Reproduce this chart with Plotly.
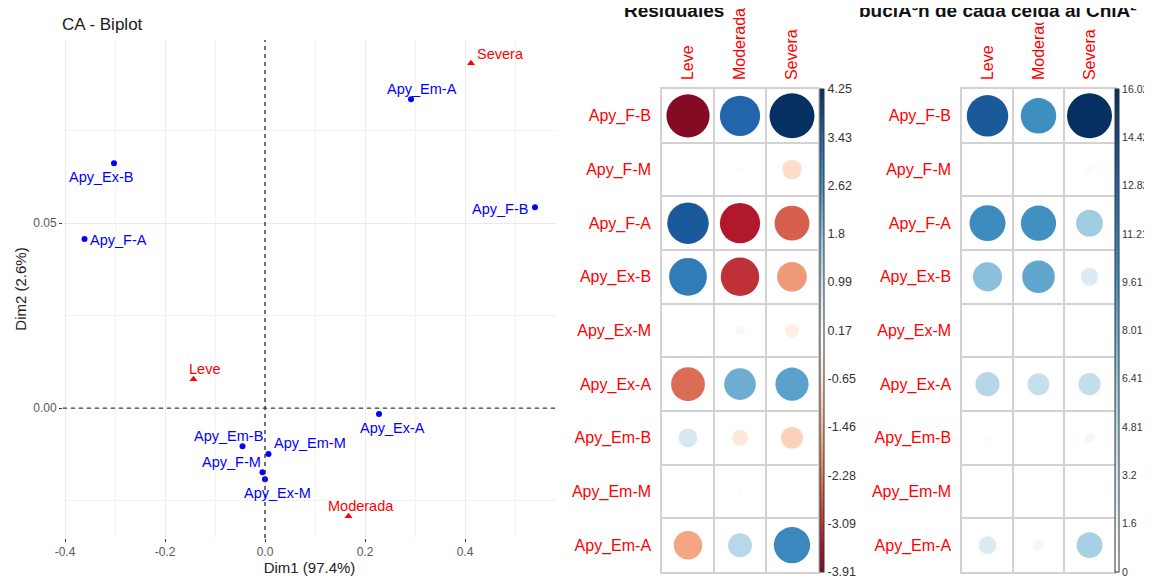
import plotly.graph_objects as go

W, H = 1152, 582
OFF = 8                      # page body margin of the html page
FW, FH = W - OFF, H - OFF    # figure size that fills the window


def px_x(p):
    return (p - OFF) / FW


def px_y(p):
    return 1 - (p - OFF) / FH


# ---------------- data ----------------
row_names = ["Apy_F-B", "Apy_F-M", "Apy_F-A", "Apy_Ex-B", "Apy_Ex-M",
             "Apy_Ex-A", "Apy_Em-B", "Apy_Em-M", "Apy_Em-A"]
col_names = ["Leve", "Moderada", "Severa"]

# CA biplot coordinates
row_dim1 = [0.540, -0.005, -0.361, -0.302, 0.000, 0.228, -0.045, 0.007, 0.292]
row_dim2 = [0.0543, -0.0173, 0.0457, 0.0662, -0.0192, -0.0016, -0.0103, -0.0124, 0.0835]
col_dim1 = [-0.143, 0.167, 0.412]
col_dim2 = [0.0078, -0.0292, 0.0932]

x_ticks = [-0.4, -0.2, 0.0, 0.2, 0.4]
x_tick_labels = ["-0.4", "-0.2", "0.0", "0.2", "0.4"]
y_ticks = [0.0, 0.05]
y_tick_labels = ["0.00", "0.05"]

# Pearson residuals (rows x [Leve, Moderada, Severa])
residuals = [
    [-3.91, 3.40, 4.25],
    [0.02, -0.10, -0.80],
    [3.60, -3.40, -2.55],
    [3.00, -3.10, -1.85],
    [-0.05, 0.20, -0.40],
    [-2.40, 2.10, 2.30],
    [0.75, -0.55, -1.00],
    [0.03, 0.10, 0.05],
    [-1.70, 1.20, 2.75],
]
resid_tick_labels = ["4.25", "3.43", "2.62", "1.8", "0.99", "0.17",
                     "-0.65", "-1.46", "-2.28", "-3.09", "-3.91"]

# Contribution of each cell to Chi2 (%)
contrib = [
    [13.6, 10.0, 16.02],
    [0.0, 0.01, 0.50],
    [10.2, 9.8, 5.7],
    [6.7, 8.4, 2.5],
    [0.0, 0.03, 0.15],
    [4.6, 3.8, 3.9],
    [0.45, 0.25, 0.85],
    [0.0, 0.01, 0.0],
    [2.5, 0.9, 5.3],
]
contrib_tick_labels = ["16.02", "14.42", "12.82", "11.21", "9.61", "8.01",
                       "6.41", "4.81", "3.2", "1.6", "0"]

# ---------------- styles ----------------
row_label_offsets = [(-35, 2), (-31, -10), (34, 1), (-13, 14), (12, 14),
                     (13, 14), (-14, -10), (41, -11), (11, -10)]
col_label_offsets = [(11, -10), (12, -10), (29, -9)]
BLUE = "#0000FF"
RED = "#FF0000"
FONT = "Liberation Sans, Arial, sans-serif"

rdbu = ["#67001F", "#B2182B", "#D6604D", "#F4A582", "#FDDBC7", "#FFFFFF",
        "#D1E5F0", "#92C5DE", "#4393C3", "#2166AC", "#053061"]


def hex2rgb(h):
    h = h.lstrip("#")
    return [int(h[i:i + 2], 16) for i in (0, 2, 4)]


def color_at(s):
    t = (max(-1, min(1, s)) + 1) / 2 * 10
    i = min(int(t), 9)
    f = t - i
    a, b = hex2rgb(rdbu[i]), hex2rgb(rdbu[i + 1])
    c = [round(a[j] + (b[j] - a[j]) * f) for j in range(3)]
    return "rgb(%d,%d,%d)" % tuple(c)


def make_scale(cmin, cmax, vabs):
    stops = [[0.0, color_at(cmin / vabs)]]
    for k in range(11):
        v = (-1 + 0.2 * k) * vabs
        if cmin < v < cmax:
            stops.append([(v - cmin) / (cmax - cmin), rdbu[k]])
    stops.append([1.0, color_at(cmax / vabs)])
    return stops


fig = go.Figure()

# ---------------- CA biplot ----------------
fig.add_trace(go.Scatter(x=row_dim1, y=row_dim2, mode="markers",
                         marker=dict(color=BLUE, size=6), xaxis="x", yaxis="y",
                         hoverinfo="skip"))
fig.add_trace(go.Scatter(x=col_dim1, y=col_dim2, mode="markers",
                         marker=dict(color=RED, size=7, symbol="triangle-up"),
                         xaxis="x", yaxis="y", hoverinfo="skip"))

annotations = []
for name, xv, yv, (dx, dy) in zip(row_names, row_dim1, row_dim2, row_label_offsets):
    annotations.append(dict(x=xv, y=yv, xref="x", yref="y", text=name, showarrow=False,
                            xshift=dx, yshift=-dy, font=dict(color=BLUE, size=14.5, family=FONT)))
for name, xv, yv, (dx, dy) in zip(col_names, col_dim1, col_dim2, col_label_offsets):
    annotations.append(dict(x=xv, y=yv, xref="x", yref="y", text=name, showarrow=False,
                            xshift=dx, yshift=-dy, font=dict(color=RED, size=14.5, family=FONT)))

fig.add_shape(type="line", xref="x", yref="y domain", x0=0, x1=0, y0=0, y1=1,
              line=dict(color="#3a3a3a", width=1.4, dash="4px,4px"))
fig.add_shape(type="line", xref="x domain", yref="y", x0=0, x1=1, y0=0, y1=0,
              line=dict(color="#3a3a3a", width=1.4, dash="4px,4px"))

GRID_TOP, GRID_BOT = 89, 572


# ---------------- corrplots ----------------
def corr_trace(mat, labels, axx, axy, diam, cbx, fsize):
    xs, ys, vals = [], [], []
    for i, row in enumerate(mat):
        for j, v in enumerate(row):
            xs.append(j + 1)
            ys.append(i + 1)
            vals.append(v)
    tickvals = [float(t) for t in labels]
    cmax, cmin = tickvals[0], tickvals[-1]
    vabs = max(abs(v) for v in vals)
    return go.Scatter(
        x=xs, y=ys, xaxis=axx, yaxis=axy, mode="markers", hoverinfo="skip",
        marker=dict(size=[abs(v) for v in vals], sizemode="area", opacity=1,
                    sizeref=2 * vabs / diam ** 2, color=vals, cmin=cmin, cmax=cmax,
                    colorscale=make_scale(cmin, cmax, vabs), line=dict(width=0),
                    showscale=True,
                    colorbar=dict(x=px_x(cbx), xanchor="left", xpad=0, ypad=0,
                                  y=(px_y(GRID_TOP) + px_y(GRID_BOT)) / 2, yanchor="middle",
                                  len=(GRID_BOT - GRID_TOP) / FH, lenmode="fraction",
                                  thickness=4, outlinewidth=1, outlinecolor="#333",
                                  tickmode="array", tickvals=tickvals, ticktext=labels,
                                  ticks="", ticklen=0,
                                  tickfont=dict(size=fsize, color="#333", family=FONT))))


fig.add_trace(corr_trace(residuals, resid_tick_labels, "x2", "y2", 45, 820, 12.5))
fig.add_trace(corr_trace(contrib, contrib_tick_labels, "x3", "y3", 45, 1115, 10.5))

grid_col = "#D2D2D2"


def corr_axes(x0, x1):
    xa = dict(domain=[px_x(x0), px_x(x1)], range=[0.5, len(col_names) + 0.5], side="top",
              tickmode="array", tickvals=list(range(1, len(col_names) + 1)),
              ticktext=col_names, tickangle=-90, ticks="", ticklabelstandoff=4,
              tickfont=dict(size=16, color=RED, family=FONT), showgrid=False,
              zeroline=False, showline=True, mirror=True, linecolor=grid_col,
              linewidth=1.5, fixedrange=True,
              minor=dict(tickmode="array",
                         tickvals=[k + 0.5 for k in range(1, len(col_names))],
                         showgrid=True, gridcolor=grid_col, gridwidth=1.5, ticks=""))
    ya = dict(domain=[px_y(GRID_BOT), px_y(GRID_TOP)], range=[len(row_names) + 0.5, 0.5],
              tickmode="array", tickvals=list(range(1, len(row_names) + 1)),
              ticktext=row_names, ticks="", ticklabelstandoff=6,
              tickfont=dict(size=16, color=RED, family=FONT), showgrid=False,
              zeroline=False, showline=True, mirror=True, linecolor=grid_col,
              linewidth=1.5, fixedrange=True,
              minor=dict(tickmode="array",
                         tickvals=[k + 0.5 for k in range(1, len(row_names))],
                         showgrid=True, gridcolor=grid_col, gridwidth=1.5, ticks=""))
    return xa, ya


xa2, ya2 = corr_axes(662, 818)
xa3, ya3 = corr_axes(962, 1115)
xa2["anchor"] = "y2"
ya2["anchor"] = "x2"
xa3["anchor"] = "y3"
ya3["anchor"] = "x3"

# titles
annotations.append(dict(x=px_x(60), y=px_y(25), xref="paper", yref="paper", xanchor="left",
                        yanchor="middle", text="CA - Biplot", showarrow=False,
                        font=dict(size=17, color="#1a1a1a", family=FONT)))
annotations.append(dict(x=px_x(674), y=px_y(11), xref="paper", yref="paper", xanchor="center",
                        yanchor="middle", text="<b>Residuales</b>", showarrow=False,
                        font=dict(size=19, color="#111", family=FONT)))
annotations.append(dict(x=px_x(1139), y=px_y(11), xref="paper", yref="paper", xanchor="right",
                        yanchor="middle", text="<b>buciÃ³n de cada celda al ChiÂ²</b>",
                        showarrow=False, bgcolor="white",
                        font=dict(size=19, color="#111", family=FONT)))

fig.update_layout(
    width=FW, height=FH, margin=dict(l=0, r=0, t=0, b=0, autoexpand=False),
    paper_bgcolor="white", plot_bgcolor="white", showlegend=False,
    font=dict(family=FONT),
    xaxis=dict(domain=[px_x(63), px_x(556)], range=[-0.404, 0.582], anchor="y",
               tickmode="array", tickvals=x_ticks, ticktext=x_tick_labels,
               showgrid=True, gridcolor="#EBEBEB", gridwidth=1.2, zeroline=False,
               minor=dict(tickmode="linear", tick0=0, dtick=0.1, showgrid=True,
                          gridcolor="#F2F2F2", gridwidth=1),
               ticks="outside", ticklen=3, tickcolor="#333", tickwidth=1,
               tickfont=dict(size=12, color="#595959", family=FONT),
               title=dict(text="Dim1 (97.4%)", font=dict(size=15, color="#222", family=FONT),
                          standoff=4), fixedrange=True),
    yaxis=dict(domain=[px_y(538), px_y(40)], range=[-0.0351, 0.0995], anchor="x",
               tickmode="array", tickvals=y_ticks, ticktext=y_tick_labels,
               showgrid=True, gridcolor="#EBEBEB", gridwidth=1.2, zeroline=False,
               minor=dict(tickmode="linear", tick0=0, dtick=0.025, showgrid=True,
                          gridcolor="#F2F2F2", gridwidth=1),
               ticks="outside", ticklen=3, tickcolor="#333", tickwidth=1,
               tickfont=dict(size=12, color="#595959", family=FONT),
               title=dict(text="Dim2 (2.6%)", font=dict(size=15, color="#222", family=FONT),
                          standoff=2), fixedrange=True),
    xaxis2=xa2, yaxis2=ya2, xaxis3=xa3, yaxis3=ya3,
    annotations=annotations,
)

fig.write_html("out.html")
